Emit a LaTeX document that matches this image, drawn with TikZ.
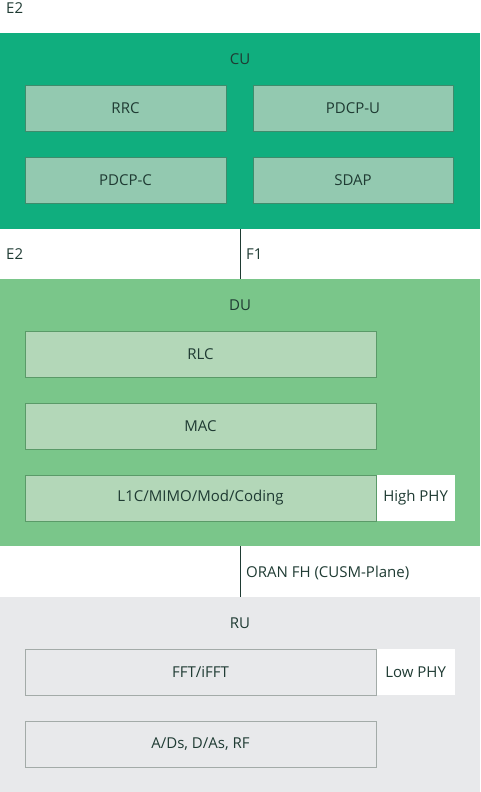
\documentclass[tikz,border=0pt]{standalone}
\usepackage{fontspec}
\setmainfont{Open Sans}
\usetikzlibrary{positioning}
\definecolor{cugreen}{HTML}{10AE7E}
\definecolor{cubox}{HTML}{93C9B0}
\definecolor{cuedge}{HTML}{3E8C6C}
\definecolor{dugreen}{HTML}{7AC68A}
\definecolor{dubox}{HTML}{B3D7B8}
\definecolor{duedge}{HTML}{5A9A68}
\definecolor{rugrey}{HTML}{E8E9EB}
\definecolor{ruedge}{HTML}{A3ABA8}
\definecolor{ink}{HTML}{1F3B33}

\begin{document}
\begin{tikzpicture}[x=1pt,y=-1pt,font=\fontsize{15}{18}\selectfont,text=ink,
  unit/.style={minimum width=480pt,inner sep=0pt,anchor=north west},
  layer/.style={draw=#1,line width=0.8pt,inner sep=0pt,minimum height=46pt},
  tag/.style={anchor=west,inner sep=0pt},
  phy/.style={fill=white,inner sep=0pt,minimum width=78pt,minimum height=46pt,anchor=west}]
\useasboundingbox (0,0) rectangle (480,792);
% CU
\node[unit,fill=cugreen,minimum height=196pt] (cu) at (0,33) {};
\node (culabel) at (240,59) {CU};
\node[layer=cuedge,fill=cubox,minimum width=201pt] (rrc) at (125.5,108) {RRC};
\node[layer=cuedge,fill=cubox,minimum width=200pt] (pdcpu) at (353,108) {PDCP-U};
\node[layer=cuedge,fill=cubox,minimum width=201pt] (pdcpc) at (125.5,180) {PDCP-C};
\node[layer=cuedge,fill=cubox,minimum width=200pt] (sdap) at (353,180) {SDAP};
% DU
\node[unit,fill=dugreen,minimum height=267pt] (du) at (0,279) {};
\node (dulabel) at (240,305) {DU};
\node[layer=duedge,fill=dubox,minimum width=351pt] (rlc) at (200.5,354) {RLC};
\node[layer=duedge,fill=dubox,minimum width=351pt] (mac) at (200.5,426) {MAC};
\node[layer=duedge,fill=dubox,minimum width=351pt] (lowl1) at (200.5,498) {L1C/MIMO/Mod/Coding};
\node[phy] (highphy) at (lowl1.east) {High PHY};
% RU
\node[unit,fill=rugrey,minimum height=195pt] (ru) at (0,597) {};
\node (rulabel) at (240,623) {RU};
\node[layer=ruedge,fill=rugrey,minimum width=351pt] (fft) at (200.5,672) {FFT/iFFT};
\node[phy] (lowphy) at (fft.east) {Low PHY};
\node[layer=ruedge,fill=rugrey,minimum width=351pt] (adc) at (200.5,744) {A/Ds, D/As, RF};
% interfaces
\draw[ink,line width=0.8pt] (cu.south) -- (du.north);
\draw[ink,line width=0.8pt] (du.south) -- (ru.north);
\node[tag] (e2top) at (6,8) {E2};
\node[tag] (e2mid) at (6,254) {E2};
\node[tag] (f1) at (246,254) {F1};
\node[tag] (fh) at (246,573) {ORAN FH (CUSM-Plane)};
\end{tikzpicture}
\end{document}
